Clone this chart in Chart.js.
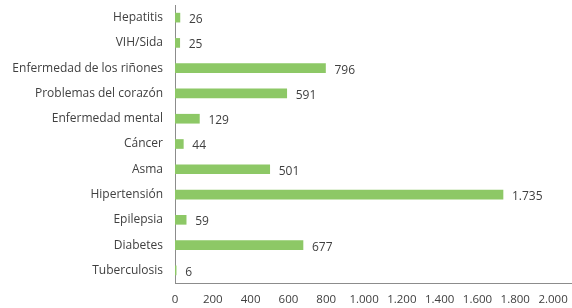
<!DOCTYPE html>
<html>
<head>
<meta charset="utf-8">
<script src="https://cdn.jsdelivr.net/npm/chart.js"></script>
<style>
    html, body { margin: 0; padding: 0; background: #fff; }
    #wrap { width: 572px; height: 308px; }
</style>
</head>
<body>
<div id="wrap"><canvas id="chart" width="572" height="308"></canvas></div>
<script>
const categories = ['Hepatitis', 'VIH/Sida', 'Enfermedad de los riñones', 'Problemas del corazón',
    'Enfermedad mental', 'Cáncer', 'Asma', 'Hipertensión', 'Epilepsia', 'Diabetes', 'Tuberculosis'];
const casos = [26, 25, 796, 591, 129, 44, 501, 1735, 59, 677, 6];
const xTicks = [0, 200, 400, 600, 800, 1000, 1200, 1400, 1600, 1800, 2000];

const barColor = '#8dc866';
const textColor = '#404040';
const fontFamily = '"Open Sans", Lato, sans-serif';

function formatNumber(v) {
    return String(v).replace(/\B(?=(\d{3})+(?!\d))/g, '.');
}

// draws the value right after each bar
const valueLabels = {
    id: 'valueLabels',
    afterDatasetsDraw(chart) {
        const ctx = chart.ctx;
        const meta = chart.getDatasetMeta(0);
        ctx.save();
        ctx.fillStyle = textColor;
        ctx.font = '12px ' + fontFamily;
        ctx.textAlign = 'left';
        ctx.textBaseline = 'middle';
        meta.data.forEach((bar, i) => {
            ctx.fillText(formatNumber(casos[i]), bar.x + 9, bar.y + 2);
        });
        ctx.restore();
    }
};

new Chart(document.getElementById('chart'), {
    type: 'bar',
    data: {
        labels: categories,
        datasets: [{
            data: casos,
            backgroundColor: barColor,
            borderWidth: 0,
            barThickness: 9
        }]
    },
    options: {
        indexAxis: 'y',
        responsive: false,
        animation: false,
        layout: { padding: { top: 5, right: 0, left: 0, bottom: 0 } },
        plugins: {
            legend: { display: false },
            tooltip: { enabled: false }
        },
        scales: {
            x: {
                min: 0,
                max: 2100,
                afterBuildTicks: (scale) => {
                    scale.ticks = xTicks.map(v => ({ value: v }));
                },
                afterFit: (scale) => {
                    scale.height = 25;
                    scale.paddingLeft = 0;
                    scale.paddingRight = 0;
                },
                grid: { display: false, drawTicks: false },
                border: { display: true, color: '#8c8c8c', width: 1 },
                ticks: {
                    padding: 10,
                    color: textColor,
                    font: { family: fontFamily, size: 11.5 },
                    maxRotation: 0,
                    callback: (v) => formatNumber(v)
                }
            },
            y: {
                afterFit: (scale) => {
                    scale.width = 175;
                    scale.paddingTop = 0;
                    scale.paddingBottom = 0;
                },
                grid: { display: false, drawTicks: false },
                border: { display: true, color: '#8c8c8c', width: 1 },
                ticks: {
                    padding: 12,
                    color: textColor,
                    font: { family: fontFamily, size: 12 }
                }
            }
        }
    },
    plugins: [valueLabels]
});
</script>
</body>
</html>
